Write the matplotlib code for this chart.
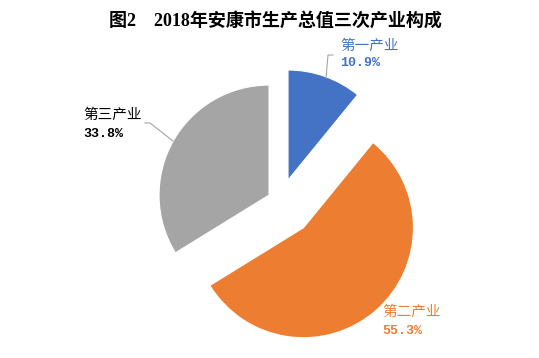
import matplotlib
matplotlib.use("Agg")
import matplotlib.pyplot as plt

categories = ["第一产业", "第二产业", "第三产业"]
values = [10.9, 55.3, 33.8]
pct_labels = ["10.9%", "55.3%", "33.8%"]
colors = ["#4472C4", "#ED7D31", "#A5A5A5"]
title = "图2　2018年安康市生产总值三次产业构成"

W, H = 539, 358
fig = plt.figure(figsize=(W / 100, H / 100), dpi=100)
ax = fig.add_axes([0, 0, 1, 1])

cx, cy = 280.4, H - 201.4
radius = 110
explode = [22.7, 35, 13]

ax.pie(values, colors=colors, startangle=90, counterclock=False,
       center=(cx, cy), radius=radius, explode=explode,
       wedgeprops=dict(edgecolor="white", linewidth=0.8))

ax.set_xlim(0, W)
ax.set_ylim(0, H)
ax.set_aspect("equal")
ax.axis("off")

cjk = ["Noto Sans CJK SC", "DejaVu Sans"]

# title
ax.text(275, H - 22, title, ha="center", va="center", fontsize=13,
        fontweight="bold", family=["Liberation Serif", "Noto Sans CJK SC"],
        color="#000000")

# data labels: (x, y of name line, y of percent line) in image pixels
label_pos = [(340, 46, 63), (382, 312, 331), (83, 115, 134)]
label_colors = ["#4472C4", "#ED7D31", "#000000"]
for cat, pct, (lx, ly1, ly2), col in zip(categories, pct_labels, label_pos, label_colors):
    ax.text(lx, H - ly1, cat, ha="left", va="center", fontsize=10.5,
            family=cjk, color=col)
    ax.text(lx, H - ly2, pct, ha="left", va="center", fontsize=9.5,
            family=["Liberation Mono", "DejaVu Sans"], color=col,
            fontweight="bold")

# leader lines
lc = "#A6A6A6"
ax.plot([333, 328, 326], [H - 55, H - 55, H - 78], color=lc, lw=0.8)
ax.plot([145, 150, 173], [H - 123, H - 123, H - 141], color=lc, lw=0.8)

fig.savefig("out.png", dpi=100)
